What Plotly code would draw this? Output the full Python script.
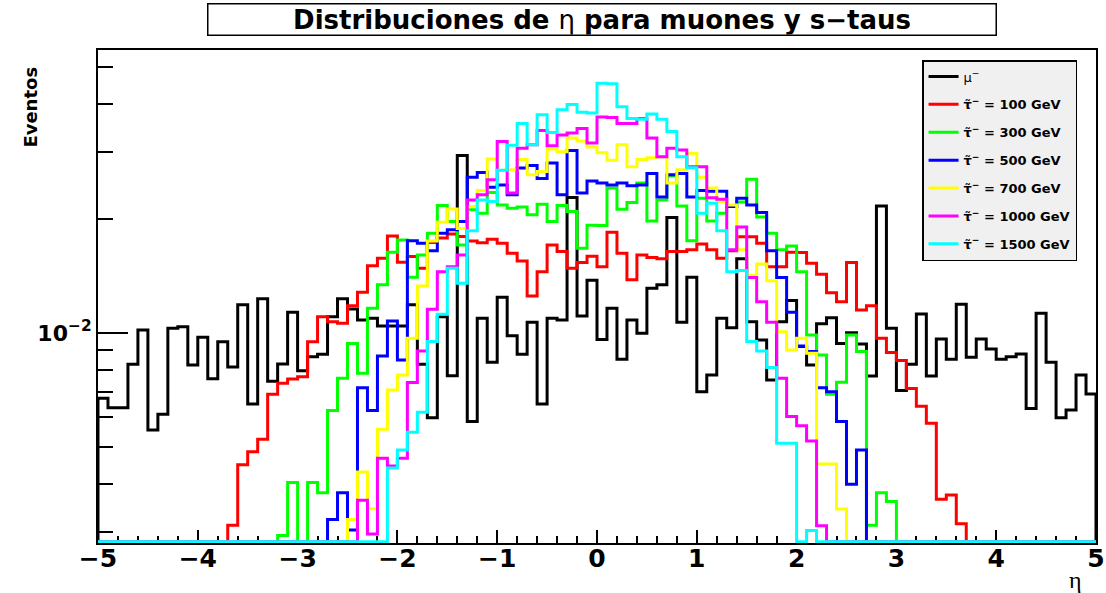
"""
Eta distributions for muons and s-taus (log scale step histograms)
"""

import numpy as np
import plotly.graph_objects as go

# 100 bins of eta between -5 and 5
eta_edges = np.linspace(-5, 5, 101)

mu_minus = [
    0.00673, 0.00636, 0.00636, 0.00827, 0.01018, 0.00556, 0.00611, 0.01029, 0.01039, 0.00824,
    0.00974, 0.00758, 0.00949, 0.00814, 0.01186, 0.00650, 0.01230, 0.00746, 0.00829, 0.01134,
    0.00796, 0.00866, 0.00879, 0.01104, 0.01230, 0.01157, 0.01082, 0.01093, 0.01043, 0.01043,
    0.01043, 0.01186, 0.00827, 0.00598, 0.01104, 0.00772, 0.02930, 0.00585, 0.01093, 0.00838,
    0.01242, 0.00984, 0.00879, 0.01068, 0.00650, 0.01093, 0.01082, 0.02272, 0.01109, 0.01377,
    0.00962, 0.01161, 0.00853, 0.01082, 0.00998, 0.01312, 0.01339, 0.02013, 0.01068, 0.01402,
    0.00700, 0.00775, 0.01093, 0.01033, 0.01567, 0.01071, 0.00959, 0.00752, 0.01071, 0.01217,
    0.00921, 0.00824, 0.01057, 0.01097, 0.00939, 0.01002, 0.00935, 0.00771, 0.02160, 0.01029,
    0.00706, 0.00827, 0.01122, 0.00771, 0.00964, 0.00853, 0.01191, 0.00863, 0.00964, 0.00908,
    0.00853, 0.00866, 0.00881, 0.00633, 0.01127, 0.00838, 0.00598, 0.00627, 0.00775, 0.00691,
]

stau_100 = [
    0, 0, 0, 0, 0, 0, 0, 0, 0, 0,
    0, 0, 0, 0.00312, 0.00450, 0.00487, 0.00525, 0.00690, 0.00738, 0.00757,
    0.00767, 0.00949, 0.01104, 0.01071, 0.01061, 0.01179, 0.01280, 0.01504, 0.01573, 0.01800,
    0.01535, 0.01589, 0.01481, 0.01731, 0.01777, 0.01823, 0.01794, 0.01747, 0.01729, 0.01765,
    0.01723, 0.01622, 0.01548, 0.01252, 0.01450, 0.01705, 0.01638, 0.01481, 0.01532, 0.01593,
    0.01495, 0.01842, 0.01622, 0.01380, 0.01605, 0.01580, 0.01567, 0.01638, 0.01638, 0.01655,
    0.01716, 0.01655, 0.01573, 0.01645, 0.01792, 0.01792, 0.01723, 0.01495, 0.01495, 0.01631,
    0.01628, 0.01526, 0.01428, 0.01277, 0.01209, 0.01532, 0.01150, 0.01180, 0.00968, 0.00889,
    0.00847, 0.00714, 0.00642, 0.00579, 0.00365, 0.00375, 0.00315, 0, 0, 0,
    0, 0, 0, 0, 0, 0, 0, 0, 0, 0,
]

stau_300 = [
    0, 0, 0, 0, 0, 0, 0, 0, 0, 0,
    0, 0, 0, 0, 0, 0, 0, 0, 0.00293, 0.00404,
    0, 0.00404, 0.00380, 0.00625, 0.00760, 0.00939, 0.00784, 0.01161, 0.01339, 0.01632,
    0.01758, 0.01402, 0.01605, 0.01831, 0.02164, 0.01964, 0.01705, 0.02110, 0.02067, 0.02342,
    0.02173, 0.02130, 0.02145, 0.02046, 0.02182, 0.01964, 0.02164, 0.02087, 0.01672, 0.01920,
    0.01918, 0.02407, 0.02118, 0.02204, 0.02480, 0.01972, 0.02240, 0.02590, 0.02160, 0.01750,
    0.02262, 0.01972, 0.02067, 0.02152, 0.02210, 0.02540, 0.02020, 0.01831, 0.01655, 0.01695,
    0.01450, 0.00988, 0.00875, 0.00690, 0.00742, 0.00988, 0.00894, 0.00312, 0.00380, 0.00360,
    0, 0, 0, 0, 0, 0, 0, 0, 0, 0,
    0, 0, 0, 0, 0, 0, 0, 0, 0, 0,
]

stau_500 = [
    0, 0, 0, 0, 0, 0, 0, 0, 0, 0,
    0, 0, 0, 0, 0, 0, 0, 0, 0, 0,
    0, 0, 0, 0.00323, 0.00380, 0.00303, 0.00718, 0.00625, 0.00870, 0.01076,
    0.00849, 0.01750, 0.01723, 0.01645, 0.01831, 0.01868, 0.01964, 0.02570, 0.02643, 0.02420,
    0.02450, 0.02310, 0.02716, 0.02760, 0.02552, 0.02800, 0.02310, 0.03020, 0.02334, 0.02510,
    0.02480, 0.02450, 0.02480, 0.02440, 0.02450, 0.02630, 0.02280, 0.02608, 0.02630, 0.02280,
    0.02370, 0.02360, 0.02360, 0.02152, 0.02262, 0.02173, 0.02074, 0.01645, 0.01399, 0.01134,
    0.00924, 0.00894, 0.00718, 0.00700, 0.00585, 0.00400, 0.00492, 0, 0, 0,
    0, 0, 0, 0, 0, 0, 0, 0, 0, 0,
    0, 0, 0, 0, 0, 0, 0, 0, 0, 0,
]

stau_700 = [
    0, 0, 0, 0, 0, 0, 0, 0, 0, 0,
    0, 0, 0, 0, 0, 0, 0, 0, 0, 0,
    0, 0, 0, 0, 0, 0.00323, 0.00431, 0.00345, 0.00558, 0.00708,
    0.00775, 0.00968, 0.01330, 0.01747, 0.01955, 0.02120, 0.01885, 0.02152, 0.02370, 0.02870,
    0.02680, 0.02690, 0.02860, 0.02608, 0.02660, 0.03050, 0.03000, 0.03260, 0.03200, 0.03085,
    0.02979, 0.02850, 0.03130, 0.02740, 0.02860, 0.02890, 0.02910, 0.02480, 0.02690, 0.02970,
    0.02570, 0.02407, 0.02217, 0.02173, 0.01655, 0.01417, 0.01520, 0.01372, 0.01008, 0.00902,
    0.00968, 0.00884, 0.00452, 0.00452, 0.00344, 0, 0, 0, 0, 0,
    0, 0, 0, 0, 0, 0, 0, 0, 0, 0,
    0, 0, 0, 0, 0, 0, 0, 0, 0, 0,
]

stau_1000 = [
    0, 0, 0, 0, 0, 0, 0, 0, 0, 0,
    0, 0, 0, 0, 0, 0, 0, 0, 0, 0,
    0, 0, 0, 0, 0, 0, 0.00363, 0.00296, 0.00468, 0.00447,
    0.00468, 0.00741, 0.00897, 0.01155, 0.01450, 0.01495, 0.01605, 0.02240, 0.02310, 0.02530,
    0.03190, 0.02334, 0.03065, 0.03130, 0.03410, 0.03110, 0.03320, 0.03360, 0.03450, 0.03160,
    0.03700, 0.03690, 0.03560, 0.03560, 0.03670, 0.03260, 0.02910, 0.03065, 0.03030, 0.02740,
    0.02740, 0.02270, 0.02250, 0.01655, 0.01900, 0.01400, 0.01209, 0.01068, 0.00760, 0.00603,
    0.00570, 0.00520, 0.00311, 0, 0, 0, 0, 0, 0, 0,
    0, 0, 0, 0, 0, 0, 0, 0, 0, 0,
    0, 0, 0, 0, 0, 0, 0, 0, 0, 0,
]

stau_1500 = [
    0, 0, 0, 0, 0, 0, 0, 0, 0, 0,
    0, 0, 0, 0, 0, 0, 0, 0, 0, 0,
    0, 0, 0, 0, 0, 0, 0, 0, 0, 0.00441,
    0.00492, 0.00548, 0.00619, 0.00950, 0.01120, 0.01481, 0.01352, 0.01857, 0.02240, 0.02217,
    0.02680, 0.03120, 0.03560, 0.03130, 0.03750, 0.03370, 0.03870, 0.03990, 0.03810, 0.03790,
    0.04540, 0.04530, 0.03940, 0.03670, 0.03650, 0.03770, 0.03650, 0.03390, 0.02910, 0.02720,
    0.02067, 0.02196, 0.01857, 0.01450, 0.01460, 0.00950, 0.00896, 0.00811, 0.00513, 0.00513,
    0, 0.00302, 0, 0, 0, 0, 0, 0, 0, 0,
    0, 0, 0, 0, 0, 0, 0, 0, 0, 0,
    0, 0, 0, 0, 0, 0, 0, 0, 0, 0,
]

series_names = [
    "μ<sup>−</sup>",
    "<b>τ\u0303<sup>−</sup> = 100 GeV</b>",
    "<b>τ\u0303<sup>−</sup> = 300 GeV</b>",
    "<b>τ\u0303<sup>−</sup> = 500 GeV</b>",
    "<b>τ\u0303<sup>−</sup> = 700 GeV</b>",
    "<b>τ\u0303<sup>−</sup> = 1000 GeV</b>",
    "<b>τ\u0303<sup>−</sup> = 1500 GeV</b>",
]
series_values = [mu_minus, stau_100, stau_300, stau_500, stau_700, stau_1000, stau_1500]
series_colors = ["#000000", "#ff0000", "#00ff00", "#0000ff", "#ffff00", "#ff00ff", "#00ffff"]

# log axis range (decades) and the level where empty bins are drawn
Y_LOG_RANGE = [-2.5526, -1.2553]
FLOOR = 10 ** (-2.549)


def step_xy(values):
    """outline of a histogram, closed down to the frame at both ends"""
    vals = [v if v > 0 else FLOOR for v in values]
    xs = [eta_edges[0]] + list(eta_edges) + [eta_edges[-1]]
    ys = [FLOOR] + vals + [vals[-1], FLOOR]
    return xs, ys


fig = go.Figure()
for i, (name, vals, col) in enumerate(zip(series_names, series_values, series_colors)):
    xs, ys = step_xy(vals)
    fig.add_trace(go.Scatter(x=xs, y=ys, mode="lines", name=name,
                             line=dict(color=col, width=3, shape="hv"),
                             legendgroup=f"g{i}"))

bold = dict(family="DejaVu Sans", color="black", weight="bold")

fig.update_layout(
    width=1106, height=593,
    margin=dict(l=98, r=10, t=50, b=50, autoexpand=False),
    paper_bgcolor="white", plot_bgcolor="white",
    showlegend=True,
    legend=dict(x=0.8257, y=0.9797, xanchor="left", yanchor="top",
                bgcolor="#f0f0f0", bordercolor="black", borderwidth=1.5,
                font=dict(family="DejaVu Sans", size=13, color="black"),
                tracegroupgap=8, itemwidth=30, traceorder="grouped"),
    xaxis=dict(range=[-5, 5], showgrid=False, zeroline=False, automargin=False,
               showline=True, linecolor="black", linewidth=2, mirror=True,
               tickmode="array", tickvals=list(range(-5, 6)),
               ticks="inside", ticklen=13, tickwidth=1.5, tickcolor="black",
               minor=dict(dtick=0.2, ticks="inside", ticklen=7, tickwidth=1.5, tickcolor="black"),
               tickfont=dict(size=25, **bold), ticklabelstandoff=-8,
               layer="below traces"),
    yaxis=dict(type="log", range=Y_LOG_RANGE, showgrid=False, zeroline=False, automargin=False,
               showline=True, linecolor="black", linewidth=2, mirror=True,
               tickmode="array", tickvals=[0.01], ticktext=["10<sup>−2</sup>"],
               ticks="inside", ticklen=30, tickwidth=1.5, tickcolor="black",
               minor=dict(tickmode="array",
                          tickvals=[0.003, 0.004, 0.005, 0.006, 0.007, 0.008, 0.009,
                                    0.02, 0.03, 0.04, 0.05],
                          ticks="inside", ticklen=15, tickwidth=1.5, tickcolor="black"),
               tickfont=dict(size=22, **bold), layer="below traces"),
)

# title box
fig.add_annotation(x=0.505, y=1.0609, xref="paper", yref="paper",
                   xanchor="center", yanchor="middle", showarrow=False,
                   text="<b>Distribuciones de </b>η<b> para muones y s−taus</b>",
                   font=dict(family="DejaVu Sans", size=26, color="black"),
                   width=787, borderpad=0,
                   bordercolor="black", borderwidth=1.5, bgcolor="white")

# axis titles
fig.add_annotation(x=-0.068, y=0.9696, xref="paper", yref="paper",
                   xanchor="center", yanchor="top", showarrow=False, textangle=-90,
                   text="<b>Eventos</b>",
                   font=dict(family="DejaVu Sans", size=18, color="black"))
fig.add_annotation(x=0.979, y=-0.075, xref="paper", yref="paper",
                   xanchor="center", yanchor="middle", showarrow=False,
                   text="η", font=dict(family="Liberation Serif", size=24, color="black"))

# drop the default page margin so the figure fills the window exactly
fig.write_html("out.html", config={"displayModeBar": False},
               post_script="document.body.style.margin = '0';")
